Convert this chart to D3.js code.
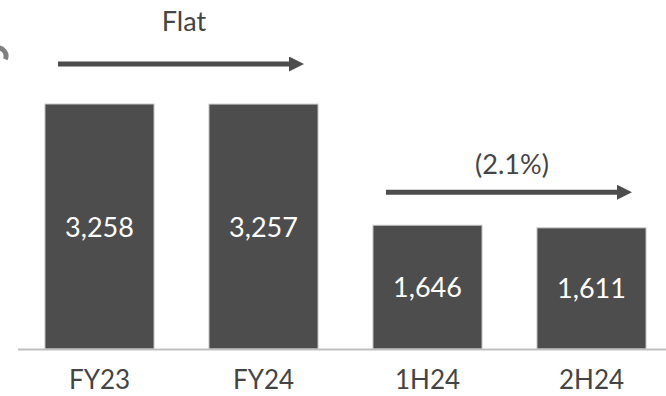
<!DOCTYPE html>
<html><head><meta charset="utf-8">
<script src="https://cdn.jsdelivr.net/npm/d3@7"></script>
<style>html,body{margin:0;padding:0;background:#fff;}svg{display:block;}</style>
</head><body>
<script>
// ---- data ----
const categories = ["FY23", "FY24", "1H24", "2H24"];
const values = [3258, 3257, 1646, 1611];
const valueLabels = ["3,258", "3,257", "1,646", "1,611"];
const annLabels = ["Flat", "(2.1%)"];
const annFrom = ["FY23", "1H24"];
const annTo = ["FY24", "2H24"];

// ---- layout ----
const W = 666, H = 396;
const baseY = 349, topY = 104;
const font = "Lato, 'Noto Sans', sans-serif";
const barFill = "#4d4d4d", textFill = "#444444";
const arrowGap = [40, 33];   // arrow distance above taller bar
const labelGap = [33, 18];   // text baseline distance above arrow

const svg = d3.select("body").append("svg").attr("width", W).attr("height", H);

const x = d3.scaleBand().domain(categories).range([17.5, 673.5])
  .paddingInner(0.335).paddingOuter(0.1675);
const y = d3.scaleLinear().domain([0, 3258]).range([baseY, topY]);

// decorative partial ring at top-left
svg.append("path")
  .attr("transform", "translate(-2,56)")
  .attr("d", d3.arc()({innerRadius: 5.5, outerRadius: 10.5, startAngle: -0.2, endAngle: 2.0}))
  .attr("fill", "#808080");

// bars
svg.selectAll("rect.bar").data(values).join("rect")
  .attr("class", "bar")
  .attr("x", (d, i) => x(categories[i]))
  .attr("width", x.bandwidth())
  .attr("y", d => y(d))
  .attr("height", d => y(0) - y(d))
  .attr("fill", barFill)
  .attr("stroke", "#c8c8c8").attr("stroke-width", 1);

// axis baseline
const xAxis = d3.axisBottom(x).tickSize(0).tickPadding(30);
const gx = svg.append("g").attr("transform", `translate(0,${y(0)})`).call(xAxis);
gx.select(".domain").attr("d", `M18,0.5H666`).attr("stroke", "#bfbfbf").attr("stroke-width", 2);
gx.selectAll(".tick text")
  .attr("font-family", font).attr("font-size", 26).attr("fill", textFill)
  .attr("dy", 0).attr("y", 40);

// value labels
svg.selectAll("text.val").data(values).join("text")
  .attr("class", "val")
  .attr("x", (d, i) => x(categories[i]) + x.bandwidth() / 2)
  .attr("y", d => (y(d) + y(0)) / 2 + 10)
  .attr("text-anchor", "middle")
  .attr("font-family", font).attr("font-size", 27).attr("fill", "#ffffff")
  .text((d, i) => valueLabels[i]);

// annotation arrows
const defs = svg.append("defs");
defs.append("marker").attr("id", "ah")
  .attr("viewBox", "0 0 10 10").attr("refX", 0).attr("refY", 5)
  .attr("markerUnits", "userSpaceOnUse")
  .attr("markerWidth", 17).attr("markerHeight", 15).attr("orient", "auto")
  .append("path").attr("d", "M0,0L10,5L0,10Z").attr("fill", barFill);

annLabels.forEach((lab, i) => {
  const i0 = categories.indexOf(annFrom[i]), i1 = categories.indexOf(annTo[i]);
  const x0 = x(annFrom[i]) + 13;
  const x1 = x(annTo[i]) + x.bandwidth() - 12;
  const ay = y(Math.max(values[i0], values[i1])) - arrowGap[i];
  svg.append("line")
    .attr("x1", x0).attr("x2", x1 - 17).attr("y1", ay).attr("y2", ay)
    .attr("stroke", barFill).attr("stroke-width", 5)
    .attr("marker-end", "url(#ah)");
  svg.append("text")
    .attr("x", (x0 + x1) / 2 + 2)
    .attr("y", ay - labelGap[i])
    .attr("text-anchor", "middle")
    .attr("font-family", font).attr("font-size", 27).attr("fill", textFill)
    .text(lab);
});
</script>
</body></html>
